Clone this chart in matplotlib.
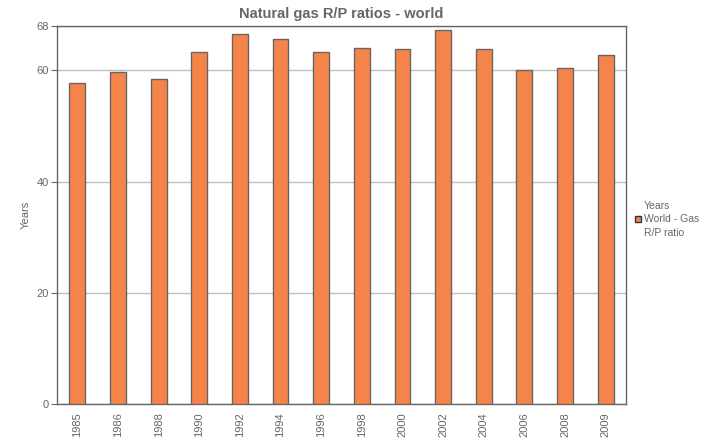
import matplotlib
matplotlib.use("Agg")
import matplotlib.pyplot as plt
from matplotlib.patches import Rectangle

years = ["1985", "1986", "1988", "1990", "1992", "1994", "1996", "1998",
         "2000", "2002", "2004", "2006", "2008", "2009"]
rp_ratio = [57.8, 59.8, 58.4, 63.4, 66.5, 65.6, 63.3, 64.0,
            63.8, 67.2, 63.8, 60.0, 60.4, 62.7]
yticks = [0, 20, 40, 60, 68]

plt.rcParams['font.family'] = ['Liberation Sans', 'DejaVu Sans']
txt = '#666666'
bar_color = '#F5844A'
W, H = 707, 440
fig = plt.figure(figsize=(7.07, 4.4), dpi=100)
ax = fig.add_axes([57/W, 1-404/H, (626-57)/W, (404-26)/H])

x = list(range(len(years)))
ax.bar(x, rp_ratio, width=0.39, color=bar_color, edgecolor='#666666', linewidth=1, zorder=3,
       label='World - Gas\nR/P ratio')
ax.set_xlim(-0.5, len(years)-0.5)
ax.set_ylim(0, 68)
ax.set_yticks(yticks)
ax.set_yticklabels([str(t) for t in yticks], color=txt, fontsize=8)
ax.set_xticks(x)
ax.set_xticklabels(years, rotation=90, color=txt, fontsize=8)
ax.tick_params(axis='x', length=0, pad=6)
ax.tick_params(axis='y', length=4, color='#666666', pad=2)
ax.grid(axis='y', color='#c0c0c0', linewidth=1, zorder=0)
for s in ax.spines.values():
    s.set_color('#666666')
    s.set_linewidth(1)
ax.set_ylabel('Years', color=txt, fontsize=8, labelpad=4)
ax.set_title('Natural gas R/P ratios - world', color=txt, fontsize=10.5, fontweight='bold', pad=6)

# legend (drawn in figure pixel positions)
fig.text(644/W, 1-206/H, 'Years', color=txt, fontsize=7.5, ha='left', va='center')
fig.text(644/W, 1-219/H, 'World - Gas', color=txt, fontsize=7.5, ha='left', va='center')
fig.text(644/W, 1-233/H, 'R/P ratio', color=txt, fontsize=7.5, ha='left', va='center')
fig.patches.append(Rectangle((635/W, 1-222/H), 6/W, 6/H, transform=fig.transFigure,
                             facecolor=bar_color, edgecolor='#333333', linewidth=1))

fig.savefig('out.png', dpi=100)
